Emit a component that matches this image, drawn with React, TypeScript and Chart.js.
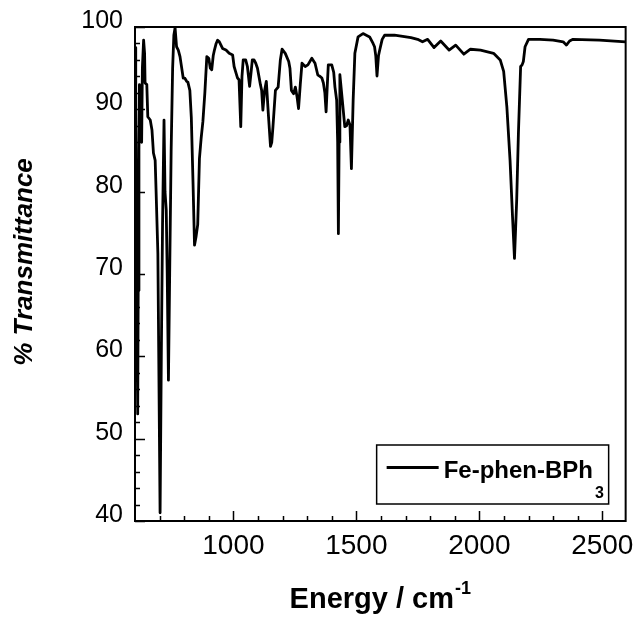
import React, { useEffect, useRef } from "react";
import { Chart, registerables } from "chart.js";

Chart.register(...registerables);

// ---- Data ----
const wavenumbers = [
  600, 603, 606, 609, 611, 613, 616, 618, 621, 624, 627, 630, 635, 639, 641, 648, 652, 662, 669, 675,
  682, 686, 693, 702, 707, 712, 718, 722, 727, 731, 736, 741, 747, 753, 758, 763, 769, 776, 783, 796,
  802, 810, 815, 823, 829, 836, 842, 848, 855, 862, 869, 876, 884, 892, 900, 906, 912, 918, 923, 930,
  936, 943, 956, 970, 983, 997, 1003, 1010, 1017, 1023, 1030, 1035, 1040, 1050, 1057, 1066, 1072, 1077, 1084, 1091,
  1098, 1104, 1110, 1115, 1120, 1127, 1134, 1142, 1151, 1156, 1161, 1171, 1182, 1191, 1198, 1211, 1225, 1230, 1236, 1245,
  1252, 1259, 1265, 1272, 1279, 1292, 1303, 1319, 1332, 1343, 1352, 1360, 1366, 1372, 1377, 1382, 1386, 1400, 1408, 1413,
  1420, 1424, 1427, 1430, 1433, 1443, 1453, 1460, 1467, 1474, 1480, 1487, 1494, 1507, 1527, 1554, 1568, 1574, 1579, 1584,
  1590, 1595, 1605, 1615, 1655, 1682, 1722, 1749, 1769, 1790, 1816, 1843, 1877, 1904, 1937, 1964, 2005, 2058, 2085, 2099,
  2112, 2125, 2135, 2143, 2152, 2159, 2168, 2174, 2179, 2186, 2200, 2246, 2300, 2341, 2354, 2367, 2381, 2488, 2595,
];
const transmittance = [
  97.5, 90, 78, 60, 53, 68, 85, 93, 88, 91, 86, 95, 98.4, 96.8, 93.2, 93.0, 89.1, 88.7, 87.5, 84.7,
  83.8, 79.8, 72.5, 41, 60, 76, 88.7, 80, 77.8, 70, 57.1, 70, 85, 95, 99, 99.9, 97.6, 97.2, 96.4, 93.8,
  93.8, 93.4, 93.3, 92.3, 89, 81, 73.5, 74.5, 76, 84, 86.5, 88.5, 92, 96.4, 96.2, 95, 94.8, 96.5, 97.2, 98,
  98.4, 98.2, 97.4, 97.2, 96.8, 96.6, 95.2, 94.5, 93.8, 93.6, 87.9, 94, 96, 96, 95.2, 92.8, 94.5, 96, 96, 95.6,
  95, 94, 93, 92.3, 89.9, 92.3, 93.4, 89.5, 85.5, 86, 87.9, 92.3, 92.7, 96, 97.3, 96.8, 95.8, 95, 92.3, 91.9,
  92.7, 91.5, 90.1, 93, 95.6, 95.2, 95.4, 96.2, 95.6, 94.2, 94, 93.8, 93.2, 92, 89.7, 93, 95.4, 95.4, 94.5, 92.7,
  91.1, 86, 74.9, 86, 94.2, 91.1, 87.9, 88, 88.7, 88.1, 82.8, 91.1, 96.8, 98.8, 99.2, 98.8, 98.0, 97.6, 96.5, 94.05,
  96.5, 97.2, 98.5, 99, 99, 98.9, 98.7, 98.5, 98.2, 98.5, 97.5, 98.3, 97.2, 97.8, 96.7, 97.3, 97.2, 96.8, 96, 94.6,
  90.3, 83.8, 77, 71.9, 79, 87.1, 95.2, 95.4, 95.8, 97.6, 98.5, 98.5, 98.4, 98.2, 97.8, 98.3, 98.5, 98.4, 98.2,
];

const xTickValues = [1000, 1500, 2000, 2500];
const yTickValues = [40, 50, 60, 70, 80, 90, 100];
const xMinorStep = 100;
const xMajorStep = 500;
const yMinorStep = 2;
const yMajorStep = 10;
const xRange = [600, 2595];
const yRange = [40, 100];

const seriesLabel = "Fe-phen-BPh";
const seriesSubscript = "3";
const xTitle = "Energy / cm";
const xTitleSup = "-1";
const yTitle = "% Transmittance";

const FONT = '"Liberation Sans", Arial, Helvetica, sans-serif';

const decorPlugin = {
  id: "decor",
  afterDatasetsDraw(chart: any) {
    const { ctx, chartArea } = chart;
    const { left, right, top, bottom } = chartArea;
    const xs = chart.scales.x;
    const ys = chart.scales.y;
    ctx.save();
    ctx.strokeStyle = "#000";
    ctx.lineWidth = 2;
    ctx.strokeRect(left, top, right - left, bottom - top);
    ctx.lineWidth = 1.5;
    ctx.beginPath();
    const x0 = Math.ceil(xRange[0] / xMinorStep) * xMinorStep;
    for (let v = x0; v <= xRange[1]; v += xMinorStep) {
      if (v <= xRange[0]) continue;
      const px = Math.round(xs.getPixelForValue(v)) + 0.5;
      const len = v % xMajorStep === 0 ? 10 : 5;
      ctx.moveTo(px, bottom);
      ctx.lineTo(px, bottom - len);
    }
    for (let v = yRange[0]; v <= yRange[1]; v += yMinorStep) {
      const py = Math.round(ys.getPixelForValue(v)) + 0.5;
      const len = v % yMajorStep === 0 ? 10 : 5;
      ctx.moveTo(left, py);
      ctx.lineTo(left + len, py);
    }
    ctx.stroke();
    ctx.restore();
  },
  afterDraw(chart: any) {
    const { ctx, chartArea } = chart;
    const { left, right, top, bottom } = chartArea;
    ctx.save();
    ctx.fillStyle = "#000";
    ctx.strokeStyle = "#000";

    // Legend box
    const bx2 = right - 17;
    const by2 = bottom - 17;
    const bw = 232;
    const bh = 59;
    const bx1 = bx2 - bw;
    const by1 = by2 - bh;
    ctx.fillStyle = "#fff";
    ctx.fillRect(bx1, by1, bw, bh);
    ctx.lineWidth = 1.5;
    ctx.strokeRect(bx1, by1, bw, bh);
    ctx.lineWidth = 2.8;
    ctx.beginPath();
    ctx.moveTo(bx1 + 10, by1 + 22.5);
    ctx.lineTo(bx1 + 62, by1 + 22.5);
    ctx.stroke();
    ctx.fillStyle = "#000";
    ctx.textAlign = "left";
    ctx.textBaseline = "alphabetic";
    ctx.font = `bold 24px ${FONT}`;
    ctx.fillText(seriesLabel, bx1 + 67, by1 + 33);
    const lw = ctx.measureText(seriesLabel).width;
    ctx.font = `bold 16px ${FONT}`;
    ctx.fillText(seriesSubscript, bx1 + 67 + lw + 2, by1 + 53);

    // X title with superscript
    ctx.font = `bold 29px ${FONT}`;
    const w1 = ctx.measureText(xTitle).width;
    ctx.font = `bold 18px ${FONT}`;
    const w2 = ctx.measureText(xTitleSup).width;
    const cx = (left + right) / 2;
    const sx = cx - (w1 + w2 + 1) / 2;
    ctx.font = `bold 29px ${FONT}`;
    ctx.fillText(xTitle, sx, 608);
    ctx.font = `bold 18px ${FONT}`;
    ctx.fillText(xTitleSup, sx + w1 + 1, 594);

    // Y title
    ctx.translate(25, (top + bottom) / 2 - 12);
    ctx.rotate(-Math.PI / 2);
    ctx.textAlign = "center";
    ctx.textBaseline = "middle";
    ctx.font = `italic bold 26px ${FONT}`;
    ctx.fillText(yTitle, 0, 0);
    ctx.restore();
  },
};

export default function App() {
  const ref = useRef<HTMLCanvasElement>(null);
  useEffect(() => {
    document.body.style.margin = "0";
    const canvas = ref.current!;
    const points = wavenumbers.map((x, i) => ({ x, y: transmittance[i] }));
    const chart = new Chart(canvas, {
      type: "line",
      data: {
        datasets: [
          {
            label: seriesLabel + seriesSubscript,
            data: points,
            borderColor: "#000",
            backgroundColor: "#000",
            borderWidth: 2.8,
            pointRadius: 0,
            tension: 0,
            fill: false,
            borderJoinStyle: "round",
          },
        ],
      },
      options: {
        responsive: false,
        animation: false,
        devicePixelRatio: 1,
        layout: { padding: { left: 0, top: 27, right: 12, bottom: 0 } },
        plugins: { legend: { display: false }, tooltip: { enabled: false } },
        scales: {
          x: {
            type: "linear",
            min: xRange[0],
            max: xRange[1],
            grid: { display: false, drawTicks: false },
            border: { display: false },
            ticks: {
              color: "#000",
              font: { family: FONT, size: 28 },
              padding: 8,
              maxRotation: 0,
              autoSkip: false,
              callback: (v: any) => String(v),
            },
            afterBuildTicks: (s: any) => {
              s.ticks = xTickValues.map((value) => ({ value }));
            },
            afterFit: (s: any) => {
              s.height = 96;
            },
          },
          y: {
            type: "linear",
            min: yRange[0],
            max: yRange[1],
            grid: { display: false, drawTicks: false },
            border: { display: false },
            ticks: {
              color: "#000",
              font: { family: FONT, size: 25 },
              padding: 12,
              labelOffset: -6,
              autoSkip: false,
              callback: (v: any) => String(v),
            },
            afterBuildTicks: (s: any) => {
              s.ticks = yTickValues.map((value) => ({ value }));
            },
            afterFit: (s: any) => {
              s.width = 135;
            },
          },
        },
      } as any,
      plugins: [decorPlugin],
    });
    return () => chart.destroy();
  }, []);
  return <canvas ref={ref} width={642} height={617} style={{ display: "block" }} />;
}
